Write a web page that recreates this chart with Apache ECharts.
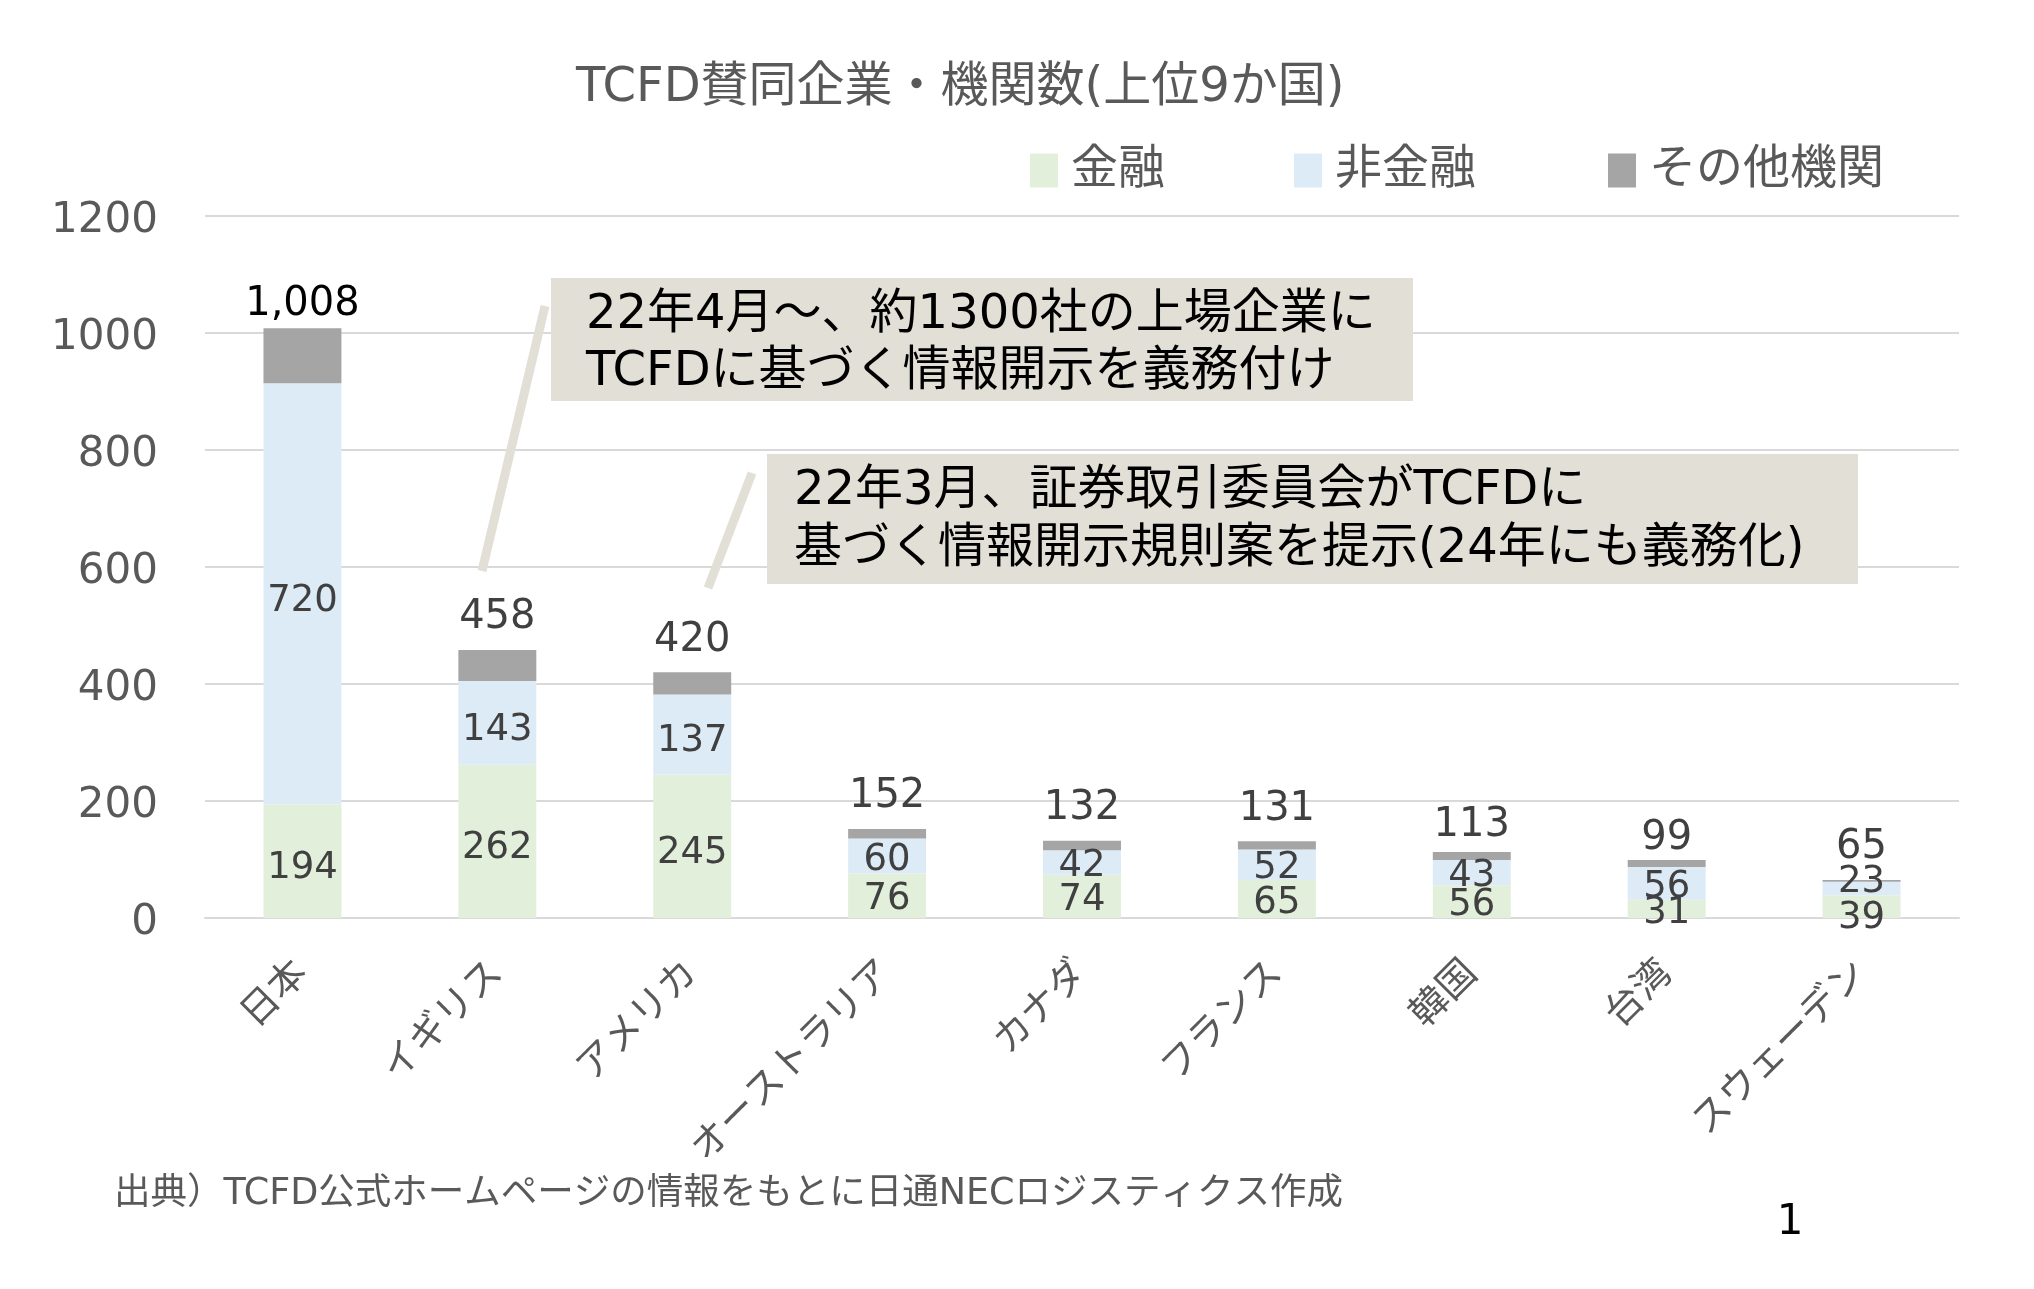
<!DOCTYPE html>
<html>
<head>
<meta charset="utf-8">
<script src="https://cdn.jsdelivr.net/npm/echarts@6/dist/echarts.min.js"></script>
<style>
html,body{margin:0;padding:0;background:#fff;}
#chart{width:2034px;height:1289px;}
</style>
</head>
<body>
<div id="chart"></div>
<script>
const categories = ['日本','イギリス','アメリカ','オーストラリア','カナダ','フランス','韓国','台湾','スウェーデン'];
const financial = [194, 262, 245, 76, 74, 65, 56, 31, 39];
const nonFinancial = [720, 143, 137, 60, 42, 52, 43, 56, 23];
const otherOrgs = [94, 53, 38, 16, 16, 14, 14, 12, 3];
const totals = [1008, 458, 420, 152, 132, 131, 113, 99, 65];
const yTicks = [0, 200, 400, 600, 800, 1000, 1200];
const seriesNames = ['金融', '非金融', 'その他機関'];
const seriesColors = ['#E2EFDA', '#DDEBF7', '#A5A5A5'];
const titleText = 'TCFD賛同企業・機関数(上位9か国)';
const note1 = ['22年4月～、約1300社の上場企業に', 'TCFDに基づく情報開示を義務付け'];
const note2 = ['22年3月、証券取引委員会がTCFDに', '基づく情報開示規則案を提示(24年にも義務化)'];
const sourceText = '出典）TCFD公式ホームページの情報をもとに日通NECロジスティクス作成';
const pageNo = '1';

const FONT = '"DejaVu Sans", "Noto Sans CJK JP", sans-serif';
const chart = echarts.init(document.getElementById('chart'));

const segLabel = {
  show: true, position: 'inside', color: '#404040',
  fontFamily: FONT, fontSize: 37
};

const legendCfg = (name, left) => ({
  data: [name], left: left, top: 142, itemWidth: 28, itemHeight: 34,
  itemGap: 0, icon: 'rect',
  textStyle: { fontFamily: FONT, fontSize: 47, color: '#595959', padding: [0, 0, 0, 8] }
});

const annoFill = '#E2E0D6';
const annoText = (x, y, t) => ({
  type: 'text', x: x, y: y, z: 11,
  style: { text: t, fontFamily: FONT, fontSize: 48, fill: '#000', verticalAlign: 'middle' }
});

const option = {
  backgroundColor: '#ffffff',
  animation: false,
  title: {
    text: titleText, left: 571, top: 60,
    textStyle: { fontFamily: FONT, fontSize: 48, fontWeight: 'normal', color: '#595959' }
  },
  legend: [
    legendCfg(seriesNames[0], 1025),
    legendCfg(seriesNames[1], 1289),
    legendCfg(seriesNames[2], 1603)
  ],
  grid: { left: 205, right: 75, top: 216, bottom: 371, containLabel: false },
  xAxis: {
    type: 'category', data: categories,
    axisLine: { show: true, lineStyle: { color: '#D9D9D9', width: 2 } },
    axisTick: { show: false },
    axisLabel: { rotate: 45, margin: 50, fontFamily: FONT, fontSize: 38, color: '#595959', interval: 0 }
  },
  yAxis: {
    type: 'value', min: yTicks[0], max: yTicks[yTicks.length - 1], interval: 200,
    axisLine: { show: false }, axisTick: { show: false },
    splitLine: { lineStyle: { color: '#D9D9D9', width: 2 } },
    axisLabel: { margin: 47, color: '#595959',
      formatter: v => '{a|' + v + '}',
      rich: { a: { fontFamily: FONT, fontSize: 42, color: '#595959', lineHeight: 42, padding: [10, 0, 0, 0] } } }
  },
  series: [
    { name: seriesNames[0], type: 'bar', stack: 'a', barWidth: '40%', data: financial,
      itemStyle: { color: seriesColors[0] }, label: segLabel,
      labelLayout: p => ({ dy: p.dataIndex === 8 ? 12 : (p.dataIndex >= 3 ? 4 : 7) }) },
    { name: seriesNames[1], type: 'bar', stack: 'a', barWidth: '40%', data: nonFinancial,
      itemStyle: { color: seriesColors[1] }, label: segLabel,
      labelLayout: p => ({ dy: p.dataIndex === 8 ? -6 : (p.dataIndex >= 3 ? 4 : 7) }) },
    { name: seriesNames[2], type: 'bar', stack: 'a', barWidth: '40%',
      data: otherOrgs.map((v, i) => ({
        value: v,
        label: { color: i === 0 ? '#000000' : '#404040' }
      })),
      itemStyle: { color: seriesColors[2] },
      label: {
        show: true, position: 'top', distance: 12, fontFamily: FONT, fontSize: 40,
        formatter: p => totals[p.dataIndex].toLocaleString('en-US')
      },
      labelLayout: p => {
        const d = { 0: 8, 6: 6, 7: 11 }[p.dataIndex];
        return d ? { dy: d } : {};
      }
    }
  ],
  graphic: [
    { type: 'line', shape: { x1: 545, y1: 306, x2: 482, y2: 571 }, style: { stroke: annoFill, lineWidth: 9 }, z: 10 },
    { type: 'rect', shape: { x: 551, y: 278, width: 862, height: 123 }, style: { fill: annoFill }, z: 10 },
    annoText(586, 316, note1[0]),
    annoText(586, 373, note1[1]),
    { type: 'line', shape: { x1: 752, y1: 473, x2: 708, y2: 588 }, style: { stroke: annoFill, lineWidth: 9 }, z: 10 },
    { type: 'rect', shape: { x: 767, y: 454, width: 1091, height: 130 }, style: { fill: annoFill }, z: 10 },
    annoText(794, 492, note2[0]),
    annoText(794, 550, note2[1]),
    { type: 'text', x: 114, y: 1195, style: { text: sourceText, fontFamily: FONT, fontSize: 36.5, fill: '#595959', verticalAlign: 'middle' } },
    { type: 'text', x: 1790, y: 1223, style: { text: pageNo, fontFamily: FONT, fontSize: 42, fill: '#000', align: 'center', verticalAlign: 'middle' } }
  ]
};
chart.setOption(option);
</script>
</body>
</html>
